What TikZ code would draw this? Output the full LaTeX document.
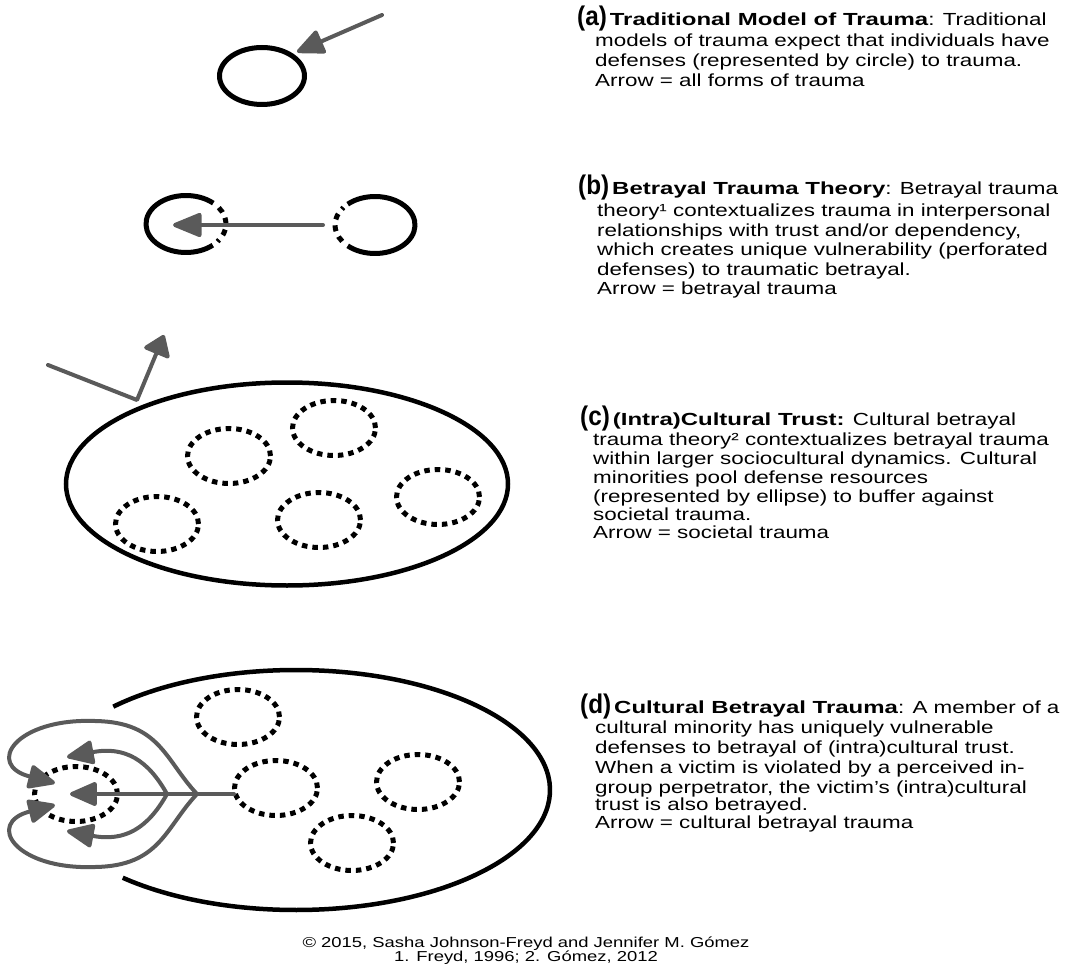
\documentclass[tikz,border=0pt]{standalone}
\usepackage{fontspec}
\setmainfont{Liberation Sans}[FakeStretch=1.28]
\newfontfamily\titlefam{Liberation Sans Bold}[FakeStretch=1.37]
\newfontfamily\labelfam{Liberation Sans Bold}[FakeStretch=0.9]
\usetikzlibrary{arrows.meta,shapes.geometric}
\definecolor{arrowgray}{HTML}{5A5A5A}
\newcommand\bodyfont{\fontsize{17.5}{19.6}\selectfont}
\newcommand\footfont{\fontsize{14.4}{15}\selectfont}
\newcommand\lab[1]{{\labelfam\fontsize{27}{27}\selectfont #1}\hspace{3pt}}
\newcommand\ttl[1]{{\titlefam\fontsize{17.5}{19}\selectfont #1}}
\begin{document}
\begin{tikzpicture}[x=1pt,y=-1pt,
  txt/.style={anchor=base west, inner sep=0pt, font=\bodyfont},
  foot/.style={anchor=base, inner sep=0pt, font=\footfont},
  solidring/.style={ellipse, draw=black, line width=5pt, inner sep=0pt},
  dotring/.style={ellipse, draw=black, line width=5pt, dash pattern=on 5.5pt off 5pt, minimum width=83pt, minimum height=55pt, inner sep=0pt},
  grayline/.style={draw=arrowgray, line width=4pt, line cap=round, line join=round},
  grayarrow/.style={grayline, -{Triangle[length=30pt,width=26pt,round]}},
  darrow/.style={grayline, -{Triangle[length=30pt,width=25pt,round]}},
]
\useasboundingbox (0,0) rectangle (1065,965);

% ---------- (a)
\node[solidring, minimum width=85pt, minimum height=57pt] (ringA) at (262,76) {};
\coordinate (arrAstart) at (382,15);
\coordinate (arrAtip) at (297,52);
\draw[grayarrow] (arrAstart) -- (arrAtip);

% ---------- (b)
\coordinate (ringBL) at (186,224);
\coordinate (ringBR) at (375,225);
\draw[line width=5pt] (ringBL) ++(-47:40 and 28.5) arc[start angle=-47, end angle=-312, x radius=40, y radius=28.5];
\draw[line width=5pt, dash pattern=on 6pt off 6pt] (ringBL) ++(-35:40 and 28.5) arc[start angle=-35, end angle=38, x radius=40, y radius=28.5];
\draw[line width=5pt] (ringBR) ++(-133:40 and 28.5) arc[start angle=-133, end angle=133, x radius=40, y radius=28.5];
\draw[line width=5pt, dash pattern=on 6pt off 6pt] (ringBR) ++(145:40 and 28.5) arc[start angle=145, end angle=218, x radius=40, y radius=28.5];
\coordinate (arrBstart) at (323,225);
\coordinate (arrBtip) at (173,225);
\draw[grayarrow, -{Triangle[length=32pt,width=25pt,round]}] (arrBstart) -- (arrBtip);

% ---------- (c)
\node[ellipse, draw=black, line width=4.5pt, minimum width=442pt, minimum height=203pt, inner sep=0pt] (ellC) at (287,484) {};
\node[dotring] (rc1) at (229,456) {};
\node[dotring] (rc2) at (334,428) {};
\node[dotring] (rc3) at (157,524) {};
\node[dotring] (rc4) at (319,520) {};
\node[dotring] (rc5) at (438,497) {};
\coordinate (arrCstart) at (48,365);
\coordinate (arrCbend) at (137,400);
\coordinate (arrCtip) at (164,335);
\draw[grayline, -{Triangle[length=22pt,width=30pt,round]}] (arrCstart) -- (arrCbend) -- (arrCtip);

% ---------- (d)
\coordinate (ellDc) at (296,790);
\draw[line width=4.5pt] (ellDc) ++(-136:254 and 120) arc[start angle=-136, end angle=133, x radius=254, y radius=120];
\node[dotring] (rd1) at (238,717) {};
\node[dotring] (rd2) at (276,788) {};
\node[dotring] (rd3) at (418,782) {};
\node[dotring] (rd4) at (352,843) {};
\node[dotring] (rdT) at (76,794) {};
\coordinate (stemStart) at (234,794);
\coordinate (branchIn) at (167,794);
\coordinate (branchOut) at (197,794);
\coordinate (tipMid) at (70,794);
\coordinate (tipInUp) at (67,757);
\coordinate (tipInDn) at (67,831);
\coordinate (tipOutUp) at (55,783);
\coordinate (tipOutDn) at (55,805);
\draw[darrow] (stemStart) -- (tipMid);
\draw[darrow] (branchIn) .. controls (148,760) and (125,746) .. (tipInUp);
\draw[darrow] (branchIn) .. controls (148,828) and (125,842) .. (tipInDn);
\draw[darrow] (branchOut) .. controls (165,760) and (160,722) .. (95,721) .. controls (15,718) and (-15,765) .. (tipOutUp);
\draw[darrow] (branchOut) .. controls (165,828) and (160,866) .. (95,867) .. controls (15,870) and (-15,823) .. (tipOutDn);

% ---------- texts (a)
\node[txt] (tA1) at (577,26) {\lab{(a)}\ttl{Traditional Model of Trauma}: Traditional};
\node[txt] (tA2) at (595,47) {models of trauma expect that individuals have};
\node[txt] (tA3) at (595,67) {defenses (represented by circle) to trauma.};
\node[txt] (tA4) at (595,87) {Arrow = all forms of trauma};
% (b)
\node[txt] (tB1) at (578,195) {\lab{(b)}\ttl{Betrayal Trauma Theory}: Betrayal trauma};
\node[txt] (tB2) at (597,217) {theory¹ contextualizes trauma in interpersonal};
\node[txt] (tB3) at (597,237) {relationships with trust and/or dependency,};
\node[txt] (tB4) at (597,256) {which creates unique vulnerability (perforated};
\node[txt] (tB5) at (597,276) {defenses) to traumatic betrayal.};
\node[txt] (tB6) at (597,295) {Arrow = betrayal trauma};
% (c)
\node[txt] (tC1) at (580,425) {\lab{(c)}\ttl{(Intra)Cultural Trust:} Cultural betrayal};
\node[txt] (tC2) at (593,445) {trauma theory² contextualizes betrayal trauma};
\node[txt] (tC3) at (593,464) {within larger sociocultural dynamics. Cultural};
\node[txt] (tC4) at (593,483) {minorities pool defense resources};
\node[txt] (tC5) at (593,502) {(represented by ellipse) to buffer against};
\node[txt] (tC6) at (593,520) {societal trauma.};
\node[txt] (tC7) at (593,538) {Arrow = societal trauma};
% (d)
\node[txt] (tD1) at (580,713) {\lab{(d)}\ttl{Cultural Betrayal Trauma}: A member of a};
\node[txt] (tD2) at (595,733) {cultural minority has uniquely vulnerable};
\node[txt] (tD3) at (595,753) {defenses to betrayal of (intra)cultural trust.};
\node[txt] (tD4) at (595,773) {When a victim is violated by a perceived in-};
\node[txt] (tD5) at (595,793) {group perpetrator, the victim’s (intra)cultural};
\node[txt] (tD6) at (595,810) {trust is also betrayed.};
\node[txt] (tD7) at (595,828) {Arrow = cultural betrayal trauma};
% footer
\node[foot] (f1) at (526,947) {© 2015, Sasha Johnson-Freyd and Jennifer M. Gómez};
\node[foot] (f2) at (526,961) {1. Freyd, 1996; 2. Gómez, 2012};
\end{tikzpicture}
\end{document}
